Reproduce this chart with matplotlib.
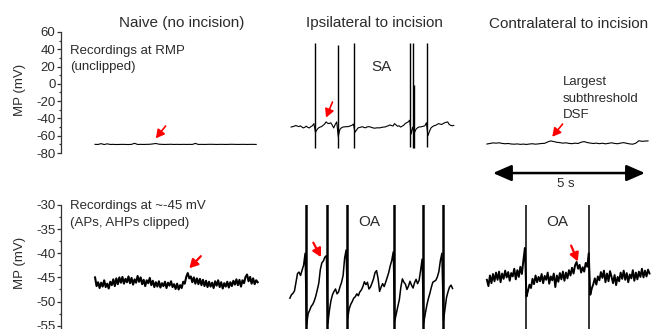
import numpy as np
import matplotlib
matplotlib.use('Agg')
import matplotlib.pyplot as plt

plt.rcParams['font.family'] = ['Liberation Sans', 'DejaVu Sans']
plt.rcParams['axes.unicode_minus'] = False

# ---------------- data ----------------
column_titles = ["Naive (no incision)", "Ipsilateral to incision", "Contralateral to incision"]
top_yticks = [-80, -60, -40, -20, 0, 20, 40, 60]
bottom_yticks = [-55, -50, -45, -40, -35, -30]

# start time (s) of each trace on the shared time axis
start_naive, start_ipsi_top, start_ipsi_bot, start_contra = 1.12, 7.57, 7.53, 14.01
dt_fine, dt_coarse = 0.05, 0.10

# Row 1: recordings at RMP (mV)
naive_rmp = [-70.0, -70.1, -69.2, -70.2, -69.4, -70.1, -70.0, -70.2, -70.1, -70.0,
             -70.1, -70.2, -70.0, -68.8, -70.1, -70.0, -70.1, -70.0, -69.9, -69.5,
             -69.0, -69.8, -70.0, -70.1, -70.0, -69.9, -70.1, -70.0, -70.1, -70.0,
             -70.1, -70.0, -70.1, -68.9, -70.1, -70.0, -70.1, -70.0, -69.9, -70.0,
             -70.1, -70.0, -70.0, -70.1, -70.0, -69.9, -70.0, -70.1, -70.0, -70.0,
             -70.1, -70.0, -70.0, -70.1]
ipsi_rmp = [-50.0, -49.5, -49.0, -48.2, -48.8, -49.5, -48.6, -49.8, -51.0, -50.2,
            -49.0, -50.4, -51.0, -49.5, -48.5, -46.0, -56.0, -53.0, -51.0, -50.0,
            -49.5, -48.0, -46.5, -44.0, -45.5, -46.0, -45.0, -47.5, -51.0, -47.0,
            -44.0, -61.0, -53.0, -51.0, -50.0, -49.8, -49.5, -49.6, -49.2, -48.6,
            -48.0, -46.5, -56.0, -53.5, -51.0, -50.5, -50.0, -49.6, -50.5, -50.8,
            -49.8, -49.5, -49.8, -50.5, -51.0, -51.3, -51.0, -50.8, -51.0, -50.6,
            -50.2, -50.0, -49.8, -49.0, -48.5, -47.5, -48.2, -48.8, -46.0, -47.5,
            -49.0, -48.5, -50.0, -49.0, -48.0, -46.0, -45.0, -44.0, -42.0, -58.0,
            -50.0, -57.0, -53.0, -51.0, -50.0, -49.8, -49.5, -49.0, -48.5, -45.0,
            -60.0, -55.0, -51.0, -49.5, -48.5, -48.0, -47.0, -46.0, -46.5, -47.0,
            -46.0, -45.0, -44.5, -44.0, -47.0, -48.0, -48.5, -48.0]
ipsi_rmp_spike_t = [0.78, 1.53, 2.08, 3.92, 4.01, 4.05, 4.48]
ipsi_rmp_spike_peak = [46.9, 45.0, 46.9, 47.6, 47.6, -1.0, 46.9]
ipsi_rmp_spike_trough = [-74.6, -74.6, -74.6, -72.7, -74.6, -74.6, -72.7]
contra_rmp = [-69.6, -69.0, -68.3, -68.6, -68.2, -68.9, -69.3, -69.0, -69.6, -69.8,
              -69.5, -70.0, -69.7, -70.1, -69.6, -69.3, -69.8, -69.4, -69.0, -68.8,
              -67.2, -66.0, -66.8, -67.6, -68.0, -68.6, -68.2, -68.9, -69.2, -68.6,
              -69.0, -67.5, -66.8, -67.9, -68.5, -69.0, -68.6, -69.2, -68.7, -69.4,
              -68.8, -68.2, -68.9, -69.3, -68.5, -68.0, -68.8, -69.5, -69.8, -68.6,
              -65.8, -66.5, -66.2, -66.0]

# Row 2: recordings at ~-45 mV (mV)
naive_45 = [-45.0, -46.8, -46.0, -47.2, -46.1, -46.9, -45.6, -47.0, -46.3, -47.3,
            -45.9, -46.6, -45.4, -46.8, -45.2, -46.4, -45.0, -46.1, -44.9, -46.3,
            -45.3, -46.0, -44.8, -46.2, -45.1, -46.5, -45.4, -46.1, -44.7, -45.9,
            -45.0, -46.4, -45.5, -46.8, -45.6, -46.2, -45.1, -46.6, -45.7, -47.0,
            -46.0, -46.9, -45.8, -47.1, -46.2, -46.8, -45.9, -47.2, -46.1, -46.7,
            -45.8, -47.0, -46.4, -47.4, -46.3, -47.5, -46.6, -47.2, -45.9, -46.3,
            -44.9, -44.1, -45.2, -44.8, -46.0, -45.0, -46.3, -45.2, -46.4, -45.3,
            -46.6, -45.5, -46.8, -45.7, -47.0, -45.9, -46.9, -46.1, -47.2, -45.8,
            -46.7, -45.6, -47.0, -46.0, -47.3, -46.2, -46.9, -45.9, -47.1, -46.0,
            -46.8, -45.7, -46.5, -45.4, -46.6, -45.5, -46.9, -45.6, -46.2, -44.9,
            -44.4, -45.8, -44.9, -46.3, -45.2, -46.4, -45.6, -46.0]
ipsi_45 = [-49.3, -48.6, -48.3, -47.8, -46.0, -44.2, -43.9, -44.6, -43.5, -42.5,
           -40.0, -54.8, -52.5, -51.8, -51.0, -50.6, -49.9, -48.9, -47.6, -46.2,
           -43.4, -42.0, -41.6, -40.8, -40.5, -54.5, -51.8, -49.8, -48.6, -47.9,
           -47.4, -48.4, -48.0, -46.9, -46.0, -44.6, -41.0, -39.3, -53.5, -51.5,
           -50.6, -50.0, -49.3, -49.0, -48.4, -48.8, -48.0, -47.6, -46.9, -45.9,
           -46.5, -46.0, -47.4, -47.0, -46.2, -45.3, -44.0, -43.6, -45.2, -47.9,
           -47.0, -46.3, -46.9, -46.0, -45.0, -44.0, -42.6, -41.5, -39.7, -54.0,
           -52.5, -51.0, -49.6, -47.0, -45.3, -46.0, -46.4, -47.5, -46.8, -45.8,
           -46.6, -47.2, -46.1, -45.4, -46.3, -45.6, -43.5, -41.2, -54.5, -52.6,
           -50.9, -49.5, -48.4, -47.1, -46.0, -45.8, -45.6, -44.9, -43.8, -41.5,
           -40.0, -54.0, -51.6, -49.2, -48.0, -47.0, -46.6, -47.3]
ipsi_45_spike_t = [0.52, 1.22, 1.87, 3.42, 4.38, 5.02]
contra_45 = [-45.5, -46.8, -44.6, -46.2, -44.3, -45.8, -44.0, -45.5, -43.8, -46.0,
             -44.2, -45.3, -43.6, -45.0, -43.9, -45.7, -44.1, -44.8, -43.2, -45.4,
             -43.5, -44.9, -42.8, -44.3, -41.5, -38.9, -49.0, -47.8, -46.5, -47.2,
             -45.3, -46.4, -44.6, -46.0, -44.9, -45.8, -44.3, -46.2, -44.7, -45.5,
             -44.0, -46.3, -44.8, -45.6, -44.2, -47.0, -44.6, -45.9, -44.1, -45.4,
             -43.8, -45.7, -44.0, -45.2, -43.5, -44.6, -43.0, -44.2, -42.5, -41.8,
             -43.2, -42.4, -44.0, -42.9, -43.8, -42.0, -42.8, -40.0, -48.6, -47.3,
             -46.4, -45.2, -46.5, -44.8, -45.6, -43.9, -45.1, -43.6, -46.0, -44.2,
             -45.8, -43.7, -44.9, -46.2, -44.5, -46.6, -44.9, -45.8, -44.0, -45.3,
             -43.6, -45.5, -44.1, -46.0, -44.4, -45.2, -43.5, -45.7, -44.0, -45.4,
             -43.8, -44.9, -43.2, -45.0, -43.6, -44.8, -43.4, -44.2]
contra_45_spike_t = [1.27, 3.37]

# red arrows (tail time, tail mV, head time, head mV)
top_arrows = [(3.44, -48.8, 3.12, -63.0), (8.93, -21.0, 8.72, -39.0), (16.50, -46.5, 16.16, -61.2)]
bot_arrows = [(4.60, -40.6, 4.22, -43.1), (8.30, -37.8, 8.55, -40.8), (16.78, -38.4, 17.00, -41.7)]

scale_start, scale_len, scale_level = 14.21, 5.0, -103.2

# ---------------- figure ----------------
W, H, DPI = 651, 329, 100
fig = plt.figure(figsize=(W / DPI, H / DPI), dpi=DPI)
txt = '#2b2b2b'
spine_c = '#333333'
px_per_s = 30.4
x_left = 61

def fx(px):
    return px / W

def fy(py):
    return 1 - py / H

ax1 = fig.add_axes([fx(x_left), fy(153), (W - x_left) / W, (153 - 32) / H])
ax2 = fig.add_axes([fx(x_left), fy(330.5), (W - x_left) / W, (330.5 - 205) / H])
xmax = (W - x_left) / px_per_s
for ax in (ax1, ax2):
    ax.set_xlim(0, xmax)
    ax.patch.set_alpha(0)
    for s in ('top', 'right', 'bottom'):
        ax.spines[s].set_visible(False)
    ax.spines['left'].set_color(spine_c)
    ax.spines['left'].set_linewidth(0.9)
    ax.set_xticks([])
    ax.tick_params(axis='y', which='major', length=2.8, width=0.9, pad=1.2,
                   colors=spine_c, labelcolor=txt, labelsize=9.5)
    ax.tick_params(axis='y', which='minor', length=1.6, width=0.9, colors=spine_c)

ax1.set_ylim(-80, 60)
ax1.set_yticks(top_yticks)
ax1.set_yticks([-70, -50, -30, -10, 10, 30, 50], minor=True)
ax2.set_ylim(-56, -30)
ax2.set_yticks(bottom_yticks)
ax2.set_yticks([-52.5, -47.5, -42.5, -37.5, -32.5], minor=True)

def times(start, vals, dt):
    return start + np.arange(len(vals)) * dt

# top row traces
ax1.plot(times(start_naive, naive_rmp, dt_coarse), naive_rmp, color='k', lw=0.8)
ax1.plot(times(start_ipsi_top, ipsi_rmp, dt_fine), ipsi_rmp, color='k', lw=0.8)
ax1.vlines(start_ipsi_top + np.array(ipsi_rmp_spike_t), ipsi_rmp_spike_trough,
           ipsi_rmp_spike_peak, color='k', lw=1.0)
ax1.plot(times(start_contra, contra_rmp, dt_coarse), contra_rmp, color='k', lw=0.8)

# bottom row traces
ax2.plot(times(start_naive, naive_45, dt_fine), naive_45, color='k', lw=1.5)
ax2.plot(times(start_ipsi_bot, ipsi_45, dt_fine), ipsi_45, color='k', lw=1.1)
ax2.vlines(start_ipsi_bot + np.array(ipsi_45_spike_t), -80, 0, color='k', lw=1.8)
ax2.plot(times(start_contra, contra_45, dt_fine), contra_45, color='k', lw=1.4)
ax2.vlines(start_contra + np.array(contra_45_spike_t), -80, 0, color='k', lw=1.1)

# red arrows
for ax, arrows, lw in ((ax1, top_arrows, 1.2), (ax2, bot_arrows, 1.6)):
    for (xt, yt, xh, yh) in arrows:
        ax.annotate('', xy=(xh, yh), xytext=(xt, yt), annotation_clip=False,
                    arrowprops=dict(arrowstyle='-|>,head_length=0.55,head_width=0.3',
                                    color='#ff0000', lw=lw, mutation_scale=9,
                                    shrinkA=0, shrinkB=0))

# scale bar
ax1.annotate('', xy=(scale_start + scale_len, scale_level), xytext=(scale_start, scale_level),
             annotation_clip=False,
             arrowprops=dict(arrowstyle='<|-|>,head_length=0.8,head_width=0.35',
                             color='k', lw=1.8, mutation_scale=14, shrinkA=0, shrinkB=0))
fig.text(fx(566), fy(184), '5 s', ha='center', va='center', fontsize=9.5, color=txt)

# titles
fig.text(fx(182), fy(23), column_titles[0], ha='center', va='center', fontsize=11, color=txt)
fig.text(fx(374), fy(23.5), column_titles[1], ha='center', va='center', fontsize=11, color=txt)
fig.text(fx(568.5), fy(23.5), column_titles[2], ha='center', va='center', fontsize=11, color=txt)

# annotations
fig.text(fx(70), fy(51), 'Recordings at RMP', ha='left', va='center', fontsize=9.5, color=txt)
fig.text(fx(70), fy(67), '(unclipped)', ha='left', va='center', fontsize=9.5, color=txt)
fig.text(fx(70), fy(206), 'Recordings at ~-45 mV', ha='left', va='center', fontsize=9.5, color=txt)
fig.text(fx(70), fy(223), '(APs, AHPs clipped)', ha='left', va='center', fontsize=9.5, color=txt)
for i, line in enumerate(['Largest', 'subthreshold', 'DSF']):
    fig.text(fx(563), fy(82 + 16.5 * i), line, ha='left', va='center', fontsize=9.5, color=txt)
fig.text(fx(381), fy(67), 'SA', ha='center', va='center', fontsize=11, color=txt)
fig.text(fx(369), fy(222), 'OA', ha='center', va='center', fontsize=11, color=txt)
fig.text(fx(557), fy(222), 'OA', ha='center', va='center', fontsize=11, color=txt)

# y labels
fig.text(fx(20), fy(90), 'MP (mV)', rotation=90, ha='center', va='center', fontsize=9.5, color=txt)
fig.text(fx(20), fy(263), 'MP (mV)', rotation=90, ha='center', va='center', fontsize=9.5, color=txt)

fig.savefig('out.png', dpi=DPI)
